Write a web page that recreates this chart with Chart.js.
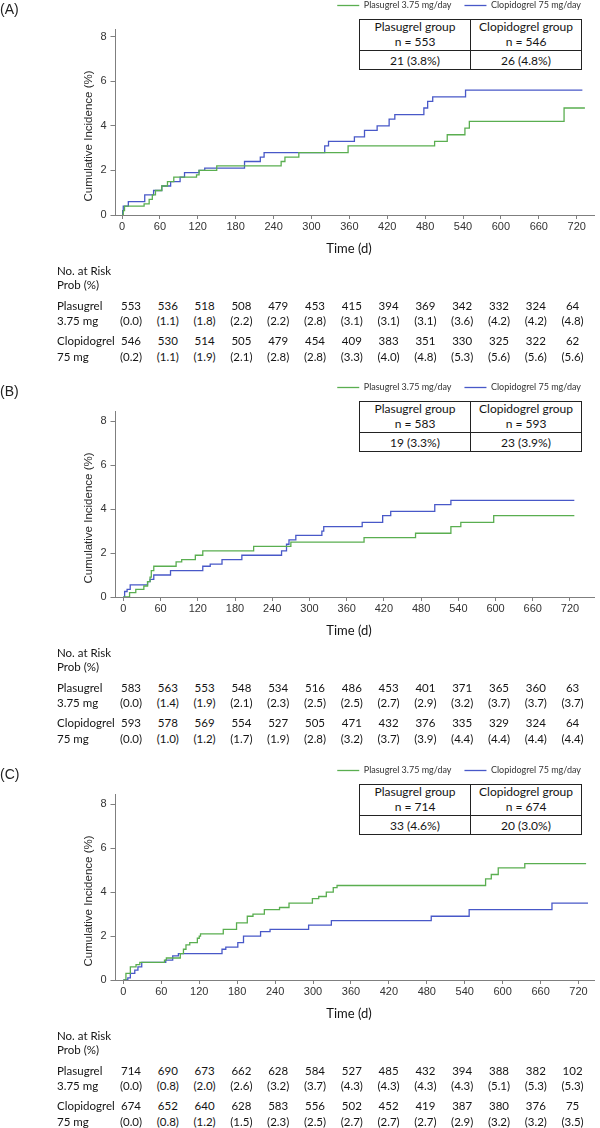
<!DOCTYPE html>
<html>
<head>
<meta charset="utf-8">
<script src="https://cdn.jsdelivr.net/npm/chart.js@4.4.1/dist/chart.umd.min.js"></script>
<style>
  html, body { margin: 0; padding: 0; background: #fff; }
  body { width: 600px; height: 1128px; position: relative; overflow: hidden; font-family: Lato, sans-serif; color: #141414; }
  .panel { position: absolute; left: 0; width: 600px; height: 382px; }
  .panel canvas { position: absolute; left: 0; top: -12px; }
  .t { position: absolute; white-space: nowrap; line-height: 1; transform: translate(-50%, -50%); }
  .l { transform: translate(0, -50%); }
  .tag { font: 14px "Liberation Sans", Arial, sans-serif; color: #222; }
  .ytitle { font: 11.5px "Liberation Sans", Arial, sans-serif; color: #2a2a2a; transform: translate(-50%, -50%) rotate(-90deg); }
  .xtitle { font-size: 13px; }
  .inset { position: absolute; left: 359px; top: 18.5px; width: 223px; height: 51.5px; box-sizing: border-box;
           border: 1.3px solid #222; background: #fff; }
  .inset .v { position: absolute; left: 110px; top: 0; bottom: 0; border-left: 1.3px solid #222; }
  .inset .h { position: absolute; left: 0; right: 0; top: 30px; border-top: 1.3px solid #222; }
  .cell { font-size: 12px; }
  .risk { font-size: 11.5px; }
</style>
</head>
<body>
<script>
// x ticks (days) and y ticks (%)
const TIME_TICKS = [0, 60, 120, 180, 240, 300, 360, 420, 480, 540, 600, 660, 720];
const Y_TICKS = [0, 2, 4, 6, 8];
const GROUPS = ['Plasugrel 3.75 mg/day', 'Clopidogrel 75 mg/day'];

// (A) step curves: day of each step and cumulative incidence after it
const A_PLA_DAYS = [0, 2, 4, 35, 43, 48, 53, 63, 72, 82, 118, 122, 150, 252, 258, 280, 358, 495, 515, 543, 550, 700, 733];
const A_PLA_PCT  = [0, 0.2, 0.4, 0.5, 0.7, 0.9, 1.1, 1.3, 1.5, 1.7, 1.8, 2.0, 2.2, 2.4, 2.6, 2.8, 3.1, 3.3, 3.6, 3.9, 4.2, 4.8, 4.8];
const A_CLO_DAYS = [0, 1, 2, 10, 36, 50, 63, 77, 92, 99, 122, 131, 194, 219, 225, 321, 327, 368, 384, 404, 423, 432, 478, 484, 492, 544, 729];
const A_CLO_PCT  = [0, 0.2, 0.4, 0.6, 0.9, 1.1, 1.3, 1.5, 1.7, 1.9, 2.0, 2.1, 2.4, 2.6, 2.8, 3.1, 3.3, 3.5, 3.8, 4.0, 4.3, 4.5, 4.8, 5.1, 5.3, 5.6, 5.6];

// (B)
const B_PLA_DAYS = [0, 10, 20, 33, 39, 43, 45, 49, 85, 94, 116, 128, 210, 270, 388, 471, 528, 544, 597, 727];
const B_PLA_PCT  = [0, 0.2, 0.35, 0.5, 0.7, 0.9, 1.2, 1.4, 1.6, 1.7, 1.9, 2.1, 2.3, 2.5, 2.7, 2.9, 3.2, 3.4, 3.7, 3.7];
const B_CLO_DAYS = [0, 2, 6, 11, 39, 43, 49, 76, 128, 140, 159, 191, 255, 263, 267, 278, 320, 323, 385, 418, 431, 502, 528, 727];
const B_CLO_PCT  = [0, 0.25, 0.35, 0.55, 0.7, 0.8, 1.0, 1.2, 1.4, 1.5, 1.7, 1.9, 2.1, 2.4, 2.6, 2.8, 3.0, 3.2, 3.4, 3.7, 3.9, 4.2, 4.4, 4.4];

// (C)
const C_PLA_DAYS = [0, 4, 11, 20, 26, 65, 68, 90, 95, 99, 105, 117, 120, 122, 158, 179, 196, 205, 223, 247, 262, 299, 309, 321, 332, 338, 573, 582, 593, 635, 732];
const C_PLA_PCT  = [0, 0.3, 0.6, 0.7, 0.8, 0.9, 1.0, 1.2, 1.4, 1.6, 1.7, 1.9, 2.0, 2.1, 2.3, 2.6, 2.9, 3.0, 3.2, 3.3, 3.5, 3.7, 3.8, 4.0, 4.2, 4.3, 4.6, 4.8, 5.1, 5.3, 5.3];
const C_CLO_DAYS = [0, 7, 11, 18, 23, 29, 67, 78, 87, 156, 162, 181, 190, 217, 232, 293, 329, 487, 547, 678, 735];
const C_CLO_PCT  = [0, 0.1, 0.3, 0.45, 0.6, 0.8, 0.9, 1.1, 1.2, 1.4, 1.5, 1.7, 2.0, 2.2, 2.3, 2.5, 2.7, 2.9, 3.2, 3.5, 3.5];

// inset boxes: group size and events
const A_N = [553, 546], A_EVENTS = ['21 (3.8%)', '26 (4.8%)'];
const B_N = [583, 593], B_EVENTS = ['19 (3.3%)', '23 (3.9%)'];
const C_N = [714, 674], C_EVENTS = ['33 (4.6%)', '20 (3.0%)'];

// numbers at risk and probability (%) at each time tick
const A_PLA_RISK = [553, 536, 518, 508, 479, 453, 415, 394, 369, 342, 332, 324, 64];
const A_PLA_PROB = ['0.0', '1.1', '1.8', '2.2', '2.2', '2.8', '3.1', '3.1', '3.1', '3.6', '4.2', '4.2', '4.8'];
const A_CLO_RISK = [546, 530, 514, 505, 479, 454, 409, 383, 351, 330, 325, 322, 62];
const A_CLO_PROB = ['0.2', '1.1', '1.9', '2.1', '2.8', '2.8', '3.3', '4.0', '4.8', '5.3', '5.6', '5.6', '5.6'];
const B_PLA_RISK = [583, 563, 553, 548, 534, 516, 486, 453, 401, 371, 365, 360, 63];
const B_PLA_PROB = ['0.0', '1.4', '1.9', '2.1', '2.3', '2.5', '2.5', '2.7', '2.9', '3.2', '3.7', '3.7', '3.7'];
const B_CLO_RISK = [593, 578, 569, 554, 527, 505, 471, 432, 376, 335, 329, 324, 64];
const B_CLO_PROB = ['0.0', '1.0', '1.2', '1.7', '1.9', '2.8', '3.2', '3.7', '3.9', '4.4', '4.4', '4.4', '4.4'];
const C_PLA_RISK = [714, 690, 673, 662, 628, 584, 527, 485, 432, 394, 388, 382, 102];
const C_PLA_PROB = ['0.0', '0.8', '2.0', '2.6', '3.2', '3.7', '4.3', '4.3', '4.3', '4.3', '5.1', '5.3', '5.3'];
const C_CLO_RISK = [674, 652, 640, 628, 583, 556, 502, 452, 419, 387, 380, 376, 75];
const C_CLO_PROB = ['0.0', '0.8', '1.2', '1.5', '2.3', '2.5', '2.7', '2.7', '2.7', '2.9', '3.2', '3.2', '3.5'];

const GREEN = '#5aae50';
const BLUE = '#4858c8';
const AXIS = '#7f7f7f';

const PANELS = [
  { tag: '(A)', top: 0, xMin: -10.3, xMax: 747.4, yMax: 8.33,
    pla: [A_PLA_DAYS, A_PLA_PCT], clo: [A_CLO_DAYS, A_CLO_PCT], n: A_N, ev: A_EVENTS,
    risk: [A_PLA_RISK, A_PLA_PROB, A_CLO_RISK, A_CLO_PROB] },
  { tag: '(B)', top: 382, xMin: -12.7, xMax: 758.7, yMax: 8.45,
    pla: [B_PLA_DAYS, B_PLA_PCT], clo: [B_CLO_DAYS, B_CLO_PCT], n: B_N, ev: B_EVENTS,
    risk: [B_PLA_RISK, B_PLA_PROB, B_CLO_RISK, B_CLO_PROB] },
  { tag: '(C)', top: 765, xMin: -12.5, xMax: 744.5, yMax: 8.45,
    pla: [C_PLA_DAYS, C_PLA_PCT], clo: [C_CLO_DAYS, C_CLO_PCT], n: C_N, ev: C_EVENTS,
    risk: [C_PLA_RISK, C_PLA_PROB, C_CLO_RISK, C_CLO_PROB] }
];

Chart.defaults.font.family = '"Liberation Sans", Arial, sans-serif';

const steps = (days, pct) => days.map((d, i) => ({ x: d, y: pct[i] }));

function text(parent, str, x, y, cls, left) {
  const el = document.createElement('div');
  el.className = 't ' + (cls || '') + (left ? ' l' : '');
  el.style.left = x + 'px';
  el.style.top = y + 'px';
  el.textContent = str;
  parent.appendChild(el);
  return el;
}

function drawCurves(canvas, p) {
  const tickFont = { size: 11 };
  return new Chart(canvas, {
    type: 'line',
    data: {
      datasets: [
        { label: GROUPS[0], data: steps(...p.pla), borderColor: GREEN, backgroundColor: GREEN },
        { label: GROUPS[1], data: steps(...p.clo), borderColor: BLUE, backgroundColor: BLUE }
      ]
    },
    options: {
      responsive: false,
      animation: false,
      devicePixelRatio: 1,
      datasets: { line: { stepped: true, pointRadius: 0, borderWidth: 1.3, fill: false } },
      layout: { padding: { left: 0, right: 6, top: 0, bottom: 0 } },
      plugins: {
        legend: {
          align: 'end',
          labels: { usePointStyle: true, pointStyle: 'line', pointStyleWidth: 22, padding: 13,
                    color: '#333', font: { family: 'Lato', size: 9 } }
        },
        // empty title only used as a spacer between legend and plot
        title: { display: true, text: '', weight: 500, font: { size: 1, lineHeight: 1 }, padding: { top: 0, bottom: 8.3 } },
        tooltip: { enabled: false }
      },
      scales: {
        x: {
          type: 'linear', min: p.xMin, max: p.xMax,
          afterBuildTicks: s => { s.ticks = TIME_TICKS.map(v => ({ value: v })); },
          afterFit: s => { s.height = 25; },
          grid: { drawOnChartArea: false, tickLength: 4, color: AXIS },
          border: { color: AXIS },
          ticks: { padding: 1.5, color: '#333', font: tickFont, maxRotation: 0, autoSkip: false }
        },
        y: {
          min: 0, max: p.yMax,
          afterBuildTicks: s => { s.ticks = Y_TICKS.map(v => ({ value: v })); },
          afterFit: s => { s.width = 115.5; },
          grid: { drawOnChartArea: false, tickLength: 5, color: AXIS },
          border: { color: AXIS },
          ticks: { padding: 4, color: '#333', font: tickFont }
        }
      }
    }
  });
}

PANELS.forEach(p => {
  const panel = document.createElement('div');
  panel.className = 'panel';
  panel.style.top = p.top + 'px';
  document.body.appendChild(panel);

  const canvas = document.createElement('canvas');
  canvas.width = 600;
  canvas.height = 252;
  panel.appendChild(canvas);
  drawCurves(canvas, p);

  text(panel, p.tag, 0, 9, 'tag', true);
  text(panel, 'Cumulative Incidence (%)', 88, 136, 'ytitle');
  text(panel, 'Time (d)', 349, 248.3, 'xtitle');

  // inset summary box
  const box = document.createElement('div');
  box.className = 'inset';
  box.innerHTML = '<div class="v"></div><div class="h"></div>';
  panel.appendChild(box);
  text(panel, 'Plasugrel group', 415, 26.7, 'cell');
  text(panel, 'n = ' + p.n[0], 415, 41.7, 'cell');
  text(panel, 'Clopidogrel group', 526, 26.7, 'cell');
  text(panel, 'n = ' + p.n[1], 526, 41.7, 'cell');
  text(panel, p.ev[0], 415, 60.5, 'cell');
  text(panel, p.ev[1], 526, 60.5, 'cell');

  // numbers at risk
  text(panel, 'No. at Risk', 57, 270.6, 'risk', true);
  text(panel, 'Prob (%)', 57, 285.1, 'risk', true);
  text(panel, 'Plasugrel', 57, 306, 'risk', true);
  text(panel, '3.75 mg', 57, 320.7, 'risk', true);
  text(panel, 'Clopidogrel', 57, 341.1, 'risk', true);
  text(panel, '75 mg', 57, 356.7, 'risk', true);
  const [plaN, plaP, cloN, cloP] = p.risk;
  TIME_TICKS.forEach((t, i) => {
    const x = 131 + 36.8 * i;
    text(panel, String(plaN[i]), x, 306, 'risk');
    text(panel, '(' + plaP[i] + ')', x, 320.7, 'risk');
    text(panel, String(cloN[i]), x, 341.1, 'risk');
    text(panel, '(' + cloP[i] + ')', x, 356.7, 'risk');
  });
});
</script>
</body>
</html>
